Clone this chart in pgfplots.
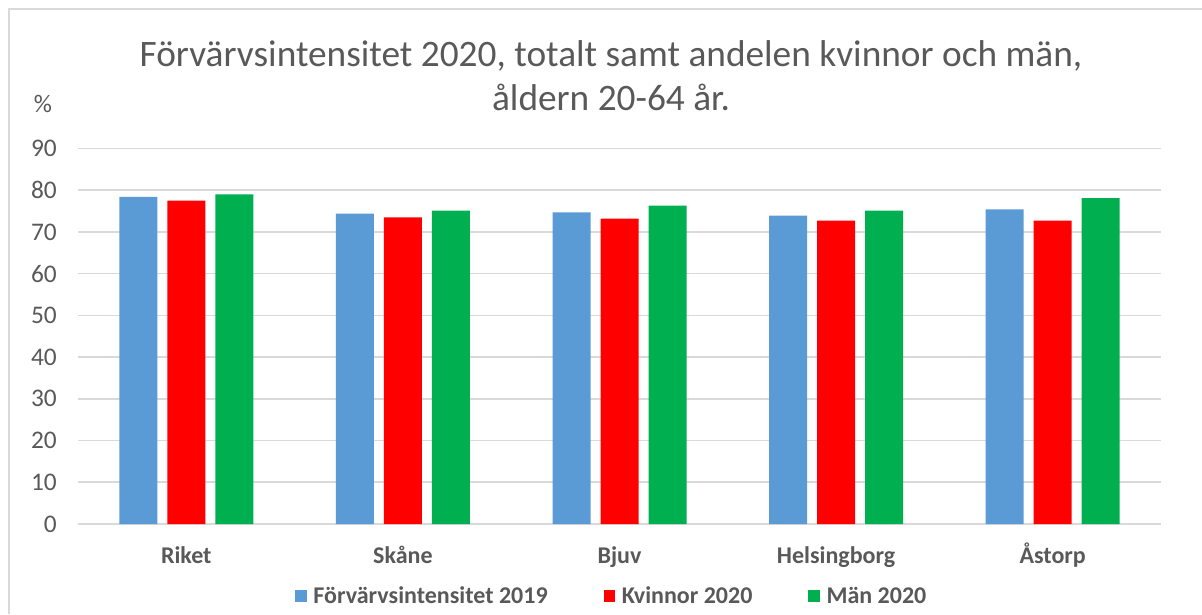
\documentclass[border=0pt]{standalone}
\usepackage{fontspec}
\setmainfont{Carlito}
\usepackage{pgfplots}
\pgfplotsset{compat=1.18}
\definecolor{cblue}{RGB}{91,155,213}
\definecolor{cred}{RGB}{255,0,0}
\definecolor{cgreen}{RGB}{0,176,80}
\definecolor{cgrid}{RGB}{217,217,217}
\definecolor{ctext}{RGB}{89,89,89}
\begin{document}
\begin{tikzpicture}[x=0.75pt,y=0.75pt]
\useasboundingbox (0,0) rectangle (1202,614);
\fill[white] (0,0) rectangle (1202,614);
\draw[cgrid, line width=1.5pt] (9,0) -- (9,605) -- (1202,605);
\node[text=ctext, font=\fontsize{28}{33}\selectfont, align=center, anchor=base] at (611,503.3)
 {Förvärvsintensitet 2020, totalt samt andelen kvinnor och män,\\åldern 20-64 år.};
\node[text=ctext, font=\fontsize{19}{22}\selectfont] at (43,510) {\%};
\begin{axis}[
  at={(58.5pt,67.5pt)}, anchor=south west,
  scale only axis, width=812.25pt, height=281.6pt,
  ymin=0, ymax=90, ytick={0,10,...,90},
  xmin=-0.5, xmax=4.5, xtick={0,...,4},
  xticklabels={Riket,Skåne,Bjuv,Helsingborg,Åstorp},
  axis line style={draw=none},
  ymajorgrids, grid style={cgrid, line width=1.2pt},
  major tick length=0pt,
  ybar=7.5pt, bar width=28.5pt,
  /pgf/number format/assume math mode=true,
  yticklabel style={font=\fontsize{19}{22}\selectfont, text=ctext, inner sep=0pt, anchor=east, xshift=-15.75pt},
  xticklabel style={font=\bfseries\fontsize{18}{22}\selectfont, text=ctext, inner sep=0pt, anchor=base, yshift=-29.6pt},
  clip=false,
  legend columns=3,
  legend cell align=left,
  legend style={at={(0.492,-0.192)}, anchor=center, draw=none, fill=none, inner sep=0pt,
    font=\bfseries\fontsize{18}{22}\selectfont, text=ctext,
    nodes={inner sep=0pt},
    /tikz/every odd column/.append style={column sep=5pt},
    /tikz/every even column/.append style={column sep=42pt}},
  legend image code/.code={\fill[#1] (0pt,-4.3pt) rectangle (8.6pt,4.3pt);},
]
\addplot[fill=cblue, draw=none] coordinates {(0,78.4) (1,74.4) (2,74.7) (3,73.9) (4,75.4)};
\addplot[fill=cred, draw=none] coordinates {(0,77.5) (1,73.5) (2,73.2) (3,72.7) (4,72.7)};
\addplot[fill=cgreen, draw=none] coordinates {(0,79.0) (1,75.1) (2,76.3) (3,75.1) (4,78.1)};
\legend{Förvärvsintensitet 2019, Kvinnor 2020, Män 2020}
\end{axis}
\end{tikzpicture}
\end{document}
